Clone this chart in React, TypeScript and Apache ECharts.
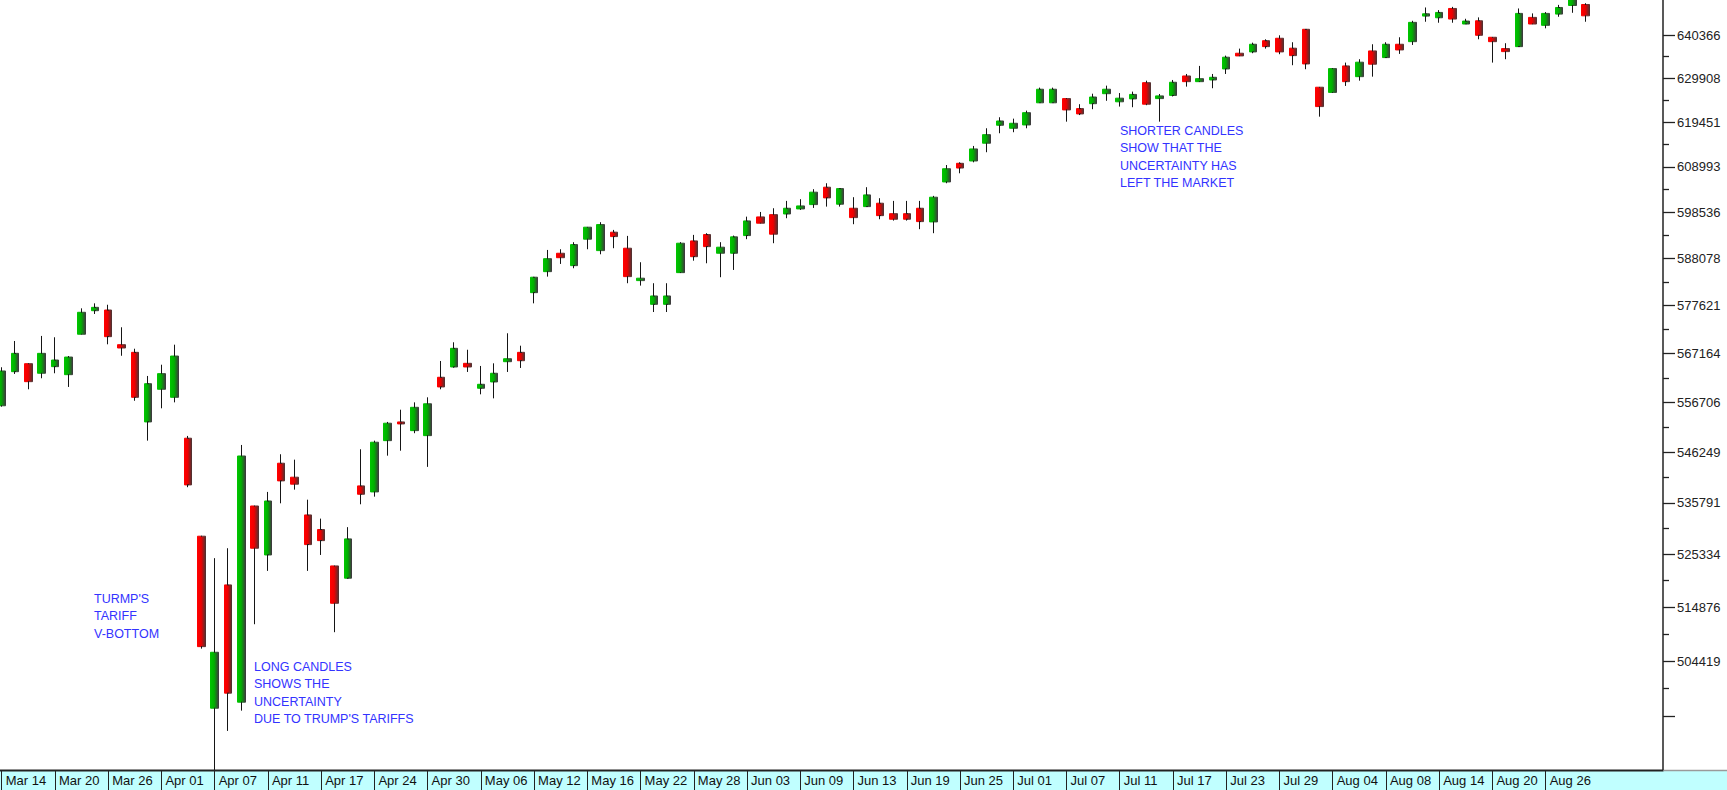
import React, { useEffect, useRef } from "react";
import * as echarts from "echarts";

const dates = [
  "Mar 14", "Mar 17", "Mar 18", "Mar 19", "Mar 20", "Mar 21", "Mar 24", "Mar 25", "Mar 26", "Mar 27", "Mar 28", "Mar 31",
  "Apr 01", "Apr 02", "Apr 03", "Apr 04", "Apr 07", "Apr 08", "Apr 09", "Apr 10", "Apr 11", "Apr 14", "Apr 15", "Apr 16", "Apr 17",
  "Apr 21", "Apr 22", "Apr 23", "Apr 24", "Apr 25", "Apr 28", "Apr 29", "Apr 30",
  "May 01", "May 02", "May 05", "May 06", "May 07", "May 08", "May 09", "May 12", "May 13", "May 14", "May 15", "May 16",
  "May 19", "May 20", "May 21", "May 22", "May 23", "May 26", "May 27", "May 28", "May 29", "May 30",
  "Jun 02", "Jun 03", "Jun 04", "Jun 05", "Jun 06", "Jun 09", "Jun 10", "Jun 11", "Jun 12", "Jun 13",
  "Jun 16", "Jun 17", "Jun 18", "Jun 19", "Jun 20", "Jun 23", "Jun 24", "Jun 25", "Jun 26", "Jun 27", "Jun 30",
  "Jul 01", "Jul 02", "Jul 03", "Jul 04", "Jul 07", "Jul 08", "Jul 09", "Jul 10", "Jul 11", "Jul 14", "Jul 15", "Jul 16",
  "Jul 17", "Jul 18", "Jul 21", "Jul 22", "Jul 23", "Jul 24", "Jul 25", "Jul 28", "Jul 29", "Jul 30", "Jul 31",
  "Aug 01", "Aug 04", "Aug 05", "Aug 06", "Aug 07", "Aug 08", "Aug 11", "Aug 12", "Aug 13", "Aug 14", "Aug 15",
  "Aug 18", "Aug 19", "Aug 20", "Aug 21", "Aug 22", "Aug 25", "Aug 26", "Aug 27", "Aug 28", "Aug 29",
];

const opens = [
  555990, 563260, 564980, 562920, 564340, 562620, 571360, 576510, 576660, 569090,
  567430, 552570, 559490, 557780, 549150, 529010, 495430, 519280, 496570, 535140,
  525240, 543940, 541050, 533320, 530350, 523050, 520610, 539260, 538020, 548640,
  552570, 550740, 549690, 562060, 564270, 565060, 559710, 561060, 565410, 567430,
  580490, 585160, 589280, 586500, 592450, 589870, 594030, 590410, 583160, 577910,
  577910, 584940, 592060, 593490, 589280, 589280, 593260, 597500, 598020, 598170,
  599320, 600310, 604310, 600400, 599480, 599850, 600630, 598240, 598240, 599480,
  596360, 605520, 609840, 610380, 614530, 618750, 618040, 618820, 624070, 624070,
  625070, 622690, 623860, 626240, 624310, 625000, 628880, 625070, 625830, 630490,
  629120, 629530, 632180, 635980, 636300, 639030, 639620, 637200, 641810, 627790,
  626550, 632910, 630320, 636540, 634920, 638160, 638790, 645050, 644640, 646930,
  643100, 643900, 639860, 637100, 637580, 644730, 642780, 645540, 647660, 647910,
];

const closes = [
  563410, 567210, 561120, 567210, 565770, 566410, 576160, 577250, 570830, 568370,
  557780, 560690, 562840, 566630, 539460, 507200, 506110, 498280, 545440, 526590,
  536160, 540290, 539610, 527320, 528120, 515650, 528470, 537540, 548310, 552300,
  552150, 555660, 556410, 559990, 568300, 564270, 560560, 562920, 566050, 565620,
  583920, 588060, 588280, 591220, 595160, 595750, 593030, 584050, 583700, 579760,
  579760, 591540, 588510, 590770, 590640, 592970, 596590, 596070, 593580, 599480,
  600010, 603160, 601850, 603980, 597340, 602540, 597790, 596970, 596970, 596430,
  602010, 608580, 608740, 613190, 616540, 619760, 619220, 621730, 627310, 627310,
  622380, 621430, 625450, 627310, 625170, 626070, 623740, 625720, 628980, 629120,
  629840, 630170, 635020, 635330, 638160, 637580, 636300, 635400, 633390, 623170,
  632260, 629120, 633810, 633320, 638160, 636780, 643510, 645610, 645950, 644320,
  643830, 640340, 638790, 636370, 645710, 643100, 645710, 647170, 649600, 645120,
];

const lows = [
  555800, 562770, 559490, 561850, 562920, 559990, 571360, 575790, 569170, 566690,
  557050, 548640, 555450, 556710, 538990, 506810, 483700, 491160, 494970, 511550,
  522060, 535690, 538490, 522060, 525240, 510000, 520500, 535490, 537050, 545510,
  546540, 550200, 543180, 559490, 564120, 563200, 558420, 557560, 563200, 564060,
  578130, 584050, 586880, 585920, 590180, 589050, 590410, 582580, 582050, 576220,
  576220, 584940, 587610, 587030, 583920, 585540, 592450, 596070, 591540, 597200,
  599090, 599550, 599850, 599850, 595840, 599850, 596970, 596660, 596660, 594710,
  593800, 605220, 607520, 610070, 612420, 616870, 617110, 618040, 624070, 624070,
  619600, 621160, 622550, 624550, 623170, 623020, 623500, 619600, 625590, 627930,
  629100, 627550, 630970, 635300, 635980, 637100, 635740, 633080, 632110, 620780,
  626500, 628100, 629360, 630320, 634900, 635820, 637990, 643660, 643420, 643420,
  643100, 639370, 633710, 634530, 637500, 643100, 642050, 644880, 645860, 643660,
];

const highs = [
  564210, 569890, 565000, 570990, 570700, 566630, 577030, 578130, 577820, 572880,
  568210, 562340, 564760, 569090, 549630, 529100, 524600, 526590, 547740, 535200,
  538020, 545800, 544680, 536430, 532570, 523100, 530840, 546840, 548640, 552570,
  555150, 556710, 557780, 565560, 569610, 567990, 564490, 565060, 571570, 568870,
  584000, 590020, 590180, 591770, 595200, 596300, 594550, 593190, 587260, 582580,
  582580, 591770, 593420, 593800, 591770, 593260, 597560, 598630, 599480, 601160,
  601550, 603850, 605220, 603990, 602010, 604310, 601780, 601160, 601160, 601160,
  602310, 609440, 610070, 613890, 618040, 620640, 620310, 622210, 627690, 627690,
  625100, 623740, 626240, 628170, 626400, 626740, 629360, 626170, 629530, 630970,
  632910, 630970, 635400, 637100, 638550, 639370, 640340, 638650, 641850, 627800,
  632300, 633710, 634530, 638160, 638650, 639860, 643900, 647170, 646520, 647320,
  644390, 644730, 639870, 638410, 646930, 645710, 646030, 647810, 650000, 648220,
];

const yLabelTicks = [
  640366, 629908, 619451, 608993, 598536, 588078, 577621, 567164, 556706, 546249,
  535791, 525334, 514876, 504419,
];
const yUnlabeledTicks = [493961];
const yMinorTicks = [
  635137, 624680, 614222, 603765, 593307, 582850, 572392, 561935, 551477, 541020,
  530563, 520105, 509648, 499190,
];
const yMin = 483893;
const yMax = 649019;

const notes = [
  { text: "TURMP'S\nTARIFF\nV-BOTTOM", x: 94, y: 590 },
  { text: "LONG CANDLES\nSHOWS THE\nUNCERTAINTY\nDUE TO TRUMP'S TARIFFS", x: 254, y: 658 },
  { text: "SHORTER CANDLES\nSHOW THAT THE\nUNCERTAINTY HAS\nLEFT THE MARKET", x: 1120, y: 122 },
];

const FONT = "'Liberation Sans', Arial, Helvetica, sans-serif";

export default function App() {
  const ref = useRef<HTMLDivElement>(null);

  useEffect(() => {
    if (!ref.current) return;
    const chart = echarts.init(ref.current, null, { renderer: "svg" });

    const n = dates.length;
    const step = 13.31;
    const extra = 5;
    const gridLeft = 1.7;
    const gridWidth = step * (n + extra - 1);
    const axisX = 1663;
    const yOffset = axisX - (gridLeft + gridWidth);

    const cats = [...dates];
    for (let i = 0; i < extra; i++) cats.push("");

    const ln = (v: number) => Math.log(v);
    const data = dates.map((_, i) => [ln(opens[i]), ln(closes[i]), ln(lows[i]), ln(highs[i])]);

    const lg = (stops: [number, string][]) =>
      new echarts.graphic.LinearGradient(0, 0, 1, 0, stops.map(([offset, color]) => ({ offset, color })));

    const upFill = lg([[0, "#00C400"], [0.45, "#00B000"], [1, "#3C3C3C"]]);
    const downFill = lg([[0, "#FF0000"], [0.45, "#EE0000"], [1, "#553030"]]);
    const upStroke = lg([[0, "#00C400"], [0.39, "#00A800"], [0.4, "#151515"], [0.6, "#151515"], [0.61, "#2E6A2E"], [1, "#3C3C3C"]]);
    const downStroke = lg([[0, "#FF0000"], [0.39, "#E00000"], [0.4, "#151515"], [0.6, "#151515"], [0.61, "#803030"], [1, "#553030"]]);

    const showIdx = (i: number) => i % 4 === 0 && i < n;

    const option: any = {
      animation: false,
      backgroundColor: "#ffffff",
      textStyle: { fontFamily: FONT },
      grid: { left: gridLeft, top: 0, width: gridWidth, height: 770, containLabel: false },
      xAxis: {
        type: "category",
        data: cats,
        boundaryGap: false,
        z: 5,
        axisLine: { show: false },
        axisTick: {
          show: true,
          interval: (i: number) => showIdx(i),
          length: 20,
          lineStyle: { color: "#222", width: 1 },
        },
        axisLabel: {
          interval: (i: number) => showIdx(i),
          align: "left",
          margin: 4,
          padding: [0, 0, 0, 4],
          fontSize: 13,
          color: "#111",
          fontFamily: FONT,
        },
        splitLine: { show: false },
      },
      yAxis: [
        {
          type: "value",
          position: "right",
          offset: yOffset,
          min: ln(yMin),
          max: ln(yMax),
          z: 5,
          axisLine: { show: true, lineStyle: { color: "#222", width: 1.5 } },
          axisTick: {
            show: true,
            customValues: [...yLabelTicks, ...yUnlabeledTicks].map(ln),
            length: 12,
            lineStyle: { color: "#222", width: 1.3 },
          },
          axisLabel: {
            customValues: yLabelTicks.map(ln),
            formatter: (v: number) => String(Math.round(Math.exp(v))),
            margin: 14,
            fontSize: 13,
            color: "#222",
            fontFamily: FONT,
          },
          splitLine: { show: false },
        },
        {
          type: "value",
          position: "right",
          offset: yOffset,
          min: ln(yMin),
          max: ln(yMax),
          z: 5,
          axisLine: { show: false },
          axisTick: {
            show: true,
            customValues: yMinorTicks.map(ln),
            length: 6,
            lineStyle: { color: "#222", width: 1.3 },
          },
          axisLabel: { show: false },
          splitLine: { show: false },
        },
      ],
      series: [
        {
          type: "candlestick",
          xAxisIndex: 0,
          yAxisIndex: 0,
          data,
          barWidth: 8,
          clip: false,
          itemStyle: {
            color: upFill,
            color0: downFill,
            borderColor: upStroke,
            borderColor0: downStroke,
            borderWidth: 1,
          },
        },
      ],
      graphic: [
        {
          type: "rect",
          z: -10,
          silent: true,
          shape: { x: 0, y: 771, width: 1727, height: 19 },
          style: { fill: "#C0FFFF" },
        },
        {
          type: "line",
          z: 10,
          silent: true,
          shape: { x1: 0, y1: 770.5, x2: axisX + 0.5, y2: 770.5 },
          style: { stroke: "#222", lineWidth: 2 },
        },
        {
          type: "line",
          z: 10,
          silent: true,
          shape: { x1: axisX + 0.5, y1: 770.5, x2: 1727, y2: 770.5 },
          style: { stroke: "#9a9a9a", lineWidth: 1.5 },
        },
        ...notes.map((nt) => ({
          type: "text",
          z: 20,
          silent: true,
          x: nt.x,
          y: nt.y,
          style: {
            text: nt.text,
            fill: "#3333FF",
            fontSize: 12.5,
            fontFamily: FONT,
            lineHeight: 17.5,
            align: "left",
            verticalAlign: "top",
          },
        })),
      ],
    };

    chart.setOption(option);
    return () => chart.dispose();
  }, []);

  return (
    <div
      ref={ref}
      style={{ position: "absolute", left: 0, top: 0, width: 1727, height: 790, background: "#fff" }}
    />
  );
}
